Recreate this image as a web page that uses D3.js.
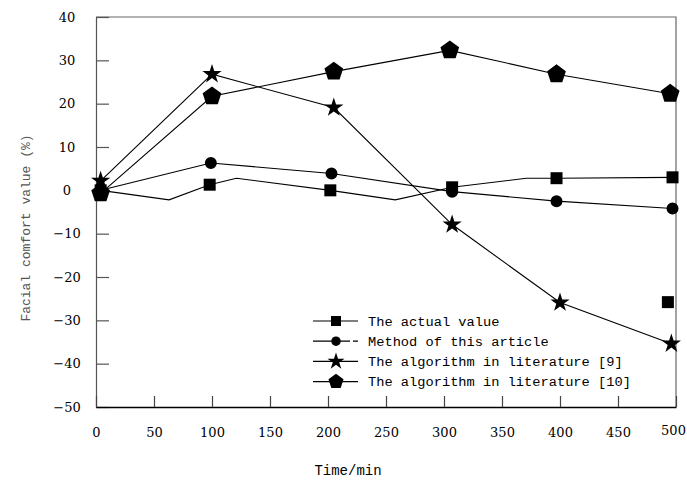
<!DOCTYPE html>
<html>
<head>
<meta charset="utf-8">
<script src="https://cdn.jsdelivr.net/npm/d3@7"></script>
<style>body{margin:0;background:#fff}</style>
</head>
<body>
<svg width="687" height="484"></svg>
<script>
// data
const timeTicks = [0, 50, 100, 150, 200, 250, 300, 350, 400, 450, 500];
const valueTicks = [-50, -40, -30, -20, -10, 0, 10, 20, 30, 40];

const seriesNames = ["The actual value", "Method of this article",
    "The algorithm in literature [9]", "The algorithm in literature [10]"];

// actual value: line bends where there is no marker
const actualTime   = [4, 63, 98, 121, 202, 258, 307, 371, 397, 497];
const actualValue  = [0, -2.2, 1.3, 2.8, 0, -2.2, 0.7, 2.8, 2.8, 3.0];
const actualMarked = [true, false, true, false, true, false, true, false, true, true];
const strayTime  = [493];
const strayValue = [-25.8];

const methodTime  = [4, 99, 203, 307, 397, 497];
const methodValue = [0, 6.3, 3.9, -0.3, -2.5, -4.2];

const lit9Time  = [4, 100, 205, 307, 400, 496];
const lit9Value = [2.2, 26.8, 19.1, -7.9, -25.9, -35.4];

const lit10Time  = [4, 100, 205, 305, 397, 495];
const lit10Value = [-0.7, 21.7, 27.4, 32.3, 26.8, 22.3];

var svg = d3.select("svg");
var marge = {top:17, bottom:77, left:96, right:11};
var width = +svg.attr("width");
var height = +svg.attr("height");

svg.append("rect").attr("width",width).attr("height",height).attr("fill","#fff");

var x = d3.scaleLinear().domain([0,500]).range([marge.left, width-marge.right]);
var y = d3.scaleLinear().domain([-50,40]).range([height-marge.bottom, marge.top]);

// pentagon symbol, point up
var symbolPentagon = {
    draw(ctx, size) {
        var r = Math.sqrt(size/2.3776);
        for (var i=0;i<5;i++) {
            var a = -Math.PI/2 + i*2*Math.PI/5;
            if (i==0) ctx.moveTo(r*Math.cos(a), r*Math.sin(a));
            else ctx.lineTo(r*Math.cos(a), r*Math.sin(a));
        }
        ctx.closePath();
    }
};

// frame top + right
svg.append("path")
    .attr("d", "M"+x(0)+","+y(40)+"H"+x(500)+"V"+y(-50))
    .attr("fill","none").attr("stroke","#666").attr("stroke-width",1.2);

// y axis, ticks pointing in
var gy = svg.append("g")
    .attr("transform","translate("+x(0)+",0)")
    .call(d3.axisLeft(y).tickValues(valueTicks).tickSizeInner(-13).tickSizeOuter(0));
gy.select(".domain").attr("stroke","#555").attr("stroke-width",1.2);
gy.selectAll(".tick line").attr("stroke","#555").attr("stroke-width",1.2);
gy.selectAll(".tick text")
    .attr("x",-29).attr("text-anchor","middle")
    .attr("font-family","DejaVu Serif").attr("font-size","13px").attr("fill","#000");

// x axis
var gx = svg.append("g")
    .attr("transform","translate(0,"+y(-50)+")")
    .call(d3.axisBottom(x).tickValues(timeTicks).tickSizeInner(-11).tickSizeOuter(0));
gx.select(".domain").attr("stroke","#000").attr("stroke-width",1.5);
gx.selectAll(".tick line").attr("stroke","#444").attr("stroke-width",1.2);
gx.selectAll(".tick text")
    .attr("y",d=>d==500?24:26).attr("dy","0.32em")
    .attr("x",d=>d==500?-3:0)
    .attr("font-family","DejaVu Serif").attr("font-size","13px").attr("fill","#000");

// axis titles
svg.append("text")
    .attr("x",348).attr("y",470).attr("dy","0.35em")
    .attr("text-anchor","middle")
    .attr("font-family","Liberation Mono").attr("font-size","14px")
    .text("Time/min");
svg.append("text")
    .attr("transform","translate(25,228) rotate(-90)")
    .attr("dy","0.35em").attr("text-anchor","middle")
    .attr("font-family","Liberation Mono").attr("font-size","13px").attr("fill","#555")
    .text("Facial comfort value (%)");

var line = d3.line().x(d=>x(d[0])).y(d=>y(d[1]));
var pairs = (t,v) => t.map((d,i)=>[d,v[i]]);

var series = [
    {pts: pairs(actualTime,actualValue), sym: d3.symbolSquare, size: 144},
    {pts: pairs(methodTime,methodValue), sym: d3.symbolCircle, size: 113},
    {pts: pairs(lit9Time,lit9Value), sym: d3.symbolStar, size: 115},
    {pts: pairs(lit10Time,lit10Value), sym: symbolPentagon, size: 230}
];

// lines
series.forEach(s=>{
    svg.append("path").attr("d",line(s.pts))
        .attr("fill","none").attr("stroke","#000").attr("stroke-width",1.1);
});

// markers (drawn in reverse so the square/circle sit on top at the start)
series.slice().reverse().forEach(s=>{
    var pts = s.sym===d3.symbolSquare ? s.pts.filter((d,i)=>actualMarked[i]) : s.pts;
    svg.selectAll(null).data(pts).enter().append("path")
        .attr("transform",d=>"translate("+x(d[0])+","+y(d[1])+")")
        .attr("d",d3.symbol().type(s.sym).size(s.size))
        .attr("fill","#000");
});
// stray square of the actual value
svg.selectAll(null).data(pairs(strayTime,strayValue)).enter().append("path")
    .attr("transform",d=>"translate("+x(d[0])+","+y(d[1])+")")
    .attr("d",d3.symbol().type(d3.symbolSquare).size(144))
    .attr("fill","#000");

// legend
var legSizes = [100, 70, 90, 150];
var lg = svg.append("g").attr("transform","translate(313,321)");
seriesNames.forEach((name,i)=>{
    var row = lg.append("g").attr("transform","translate(0,"+(i*20.2)+")");
    row.append("line").attr("x1",0).attr("x2",45).attr("y1",0).attr("y2",0)
        .attr("stroke","#000").attr("stroke-width",1.2)
        .attr("stroke-dasharray", i==1 ? "37,3,5" : null);
    row.append("path").attr("transform","translate(23,0)")
        .attr("d",d3.symbol().type(series[i].sym).size(legSizes[i]))
        .attr("fill","#000");
    row.append("text").attr("x",55).attr("dy","0.35em")
        .attr("font-family","Liberation Mono").attr("font-size","13.7px")
        .text(name);
});
</script>
</body>
</html>
